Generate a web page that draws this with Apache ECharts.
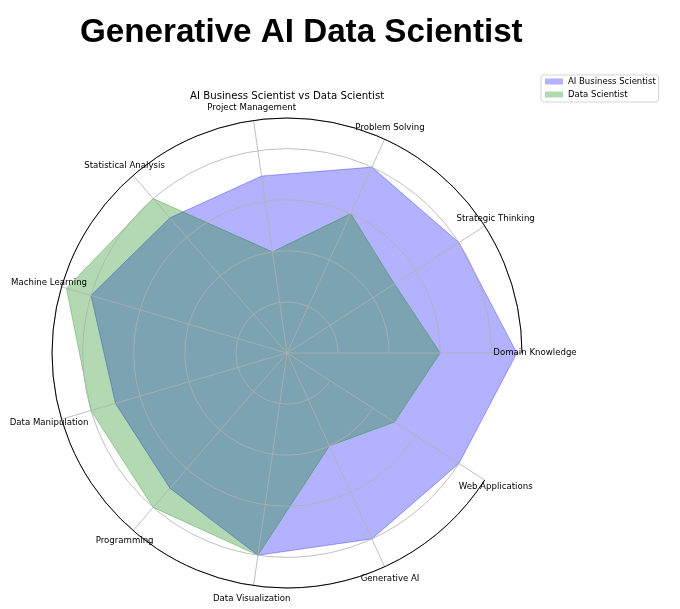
<!DOCTYPE html>
<html>
<head>
<meta charset="utf-8">
<script src="https://cdn.jsdelivr.net/npm/echarts@6/dist/echarts.min.js"></script>
<style>
html,body{margin:0;padding:0;background:#fff;}
#chart{width:680px;height:609px;}
</style>
</head>
<body>
<div id="chart"></div>
<script>
// ---- data ----
const categories = ['Domain Knowledge','Strategic Thinking','Problem Solving','Project Management',
  'Statistical Analysis','Machine Learning','Data Manipulation','Programming',
  'Data Visualization','Generative AI','Web Applications'];
const aiBusinessScientist = [9, 8, 8, 7, 7, 8, 7, 7, 8, 8, 8];
const dataScientist       = [6, 5, 6, 4, 8, 9, 8, 8, 8, 4, 5];
const seriesNames = ['AI Business Scientist', 'Data Scientist'];
const radialMax = 9.2;
const radialTickStep = 2;
const labelRadius = 1;

const CX = 287, CY = 353, R = 235, LABEL_R = 248;
const blue = '#0000ff', green = '#008000';

const chart = echarts.init(document.getElementById('chart'), null, {renderer:'canvas'});
chart.setOption({
  backgroundColor: '#fff',
  animation: false,
  title: [
    {text: 'Generative AI Data Scientist', left: 80, top: 16, padding: 0,
     textStyle: {fontFamily: 'Liberation Sans', fontWeight: 'bold', fontSize: 33.2, lineHeight: 33, color: '#000'}},
    {text: 'AI Business Scientist vs Data Scientist', left: 190, top: 90, padding: 0,
     textStyle: {fontFamily: 'DejaVu Sans', fontWeight: 'normal', fontSize: 10.2, lineHeight: 12, color: '#000'}}
  ],
  legend: {
    orient: 'vertical', left: 541, top: 75, padding: [2, 3, 3, 4],
    icon: 'rect', itemWidth: 18, itemHeight: 6, itemGap: 4,
    selectedMode: false,
    borderColor: '#d5d5d5', borderWidth: 1, borderRadius: 3,
    backgroundColor: 'rgba(255,255,255,0.8)',
    textStyle: {fontFamily: 'DejaVu Sans', fontSize: 8.5, lineHeight: 9, color: '#000'},
    data: [
      {name: seriesNames[0], itemStyle: {color: 'rgba(0,0,255,0.3)'}},
      {name: seriesNames[1], itemStyle: {color: 'rgba(0,128,0,0.3)'}}
    ]
  },
  radar: {
    center: [CX, CY], radius: R, startAngle: 0, shape: 'circle',
    indicator: categories.map(n => ({name: n, min: 0, max: radialMax})),
    axisName: {show: false},
    axisLine: {show: false}, axisTick: {show: false}, axisLabel: {show: false},
    splitLine: {show: false}, splitArea: {show: false}
  },
  polar: [
    {center: [CX, CY], radius: R},
    {center: [CX, CY], radius: LABEL_R}
  ],
  radiusAxis: [
    {polarIndex: 0, type: 'value', min: 0, max: radialMax, interval: radialTickStep, z: 5,
     axisLine: {show: false}, axisTick: {show: false}, axisLabel: {show: false},
     splitLine: {show: true, lineStyle: {color: '#b0b0b0', width: 0.8}}},
    {polarIndex: 1, type: 'value', min: 0, max: 1, show: false}
  ],
  angleAxis: [
    {polarIndex: 0, type: 'category', data: categories, boundaryGap: false, startAngle: 0, clockwise: false, z: 6,
     axisLine: {show: true, lineStyle: {color: '#000', width: 1}},
     axisTick: {show: false}, axisLabel: {show: false},
     splitLine: {show: true, lineStyle: {color: '#b0b0b0', width: 0.8}}},
    {polarIndex: 1, type: 'category', data: categories, boundaryGap: false, startAngle: 0, clockwise: false, show: false}
  ],
  series: [
    {type: 'radar', name: seriesNames[0], symbol: 'none', z: 2, silent: true,
     itemStyle: {color: blue},
     lineStyle: {color: blue, width: 1, opacity: 0.3},
     areaStyle: {color: blue, opacity: 0.3},
     data: [{name: seriesNames[0], value: aiBusinessScientist}]},
    {type: 'radar', name: seriesNames[1], symbol: 'none', z: 2, silent: true,
     itemStyle: {color: green},
     lineStyle: {color: green, width: 1, opacity: 0.3},
     areaStyle: {color: green, opacity: 0.3},
     data: [{name: seriesNames[1], value: dataScientist}]},
    {type: 'scatter', coordinateSystem: 'polar', polarIndex: 1, silent: true, z: 10,
     symbolSize: 1, itemStyle: {color: 'rgba(0,0,0,0)'},
     label: {show: true, position: 'inside', formatter: '{b}', color: '#000', opacity: 1,
             textBorderWidth: 0, textBorderColor: 'transparent',
             fontFamily: 'DejaVu Sans', fontSize: 8.6},
     data: categories.map(c => ({name: c, value: [labelRadius, c]}))}
  ]
});
</script>
</body>
</html>
